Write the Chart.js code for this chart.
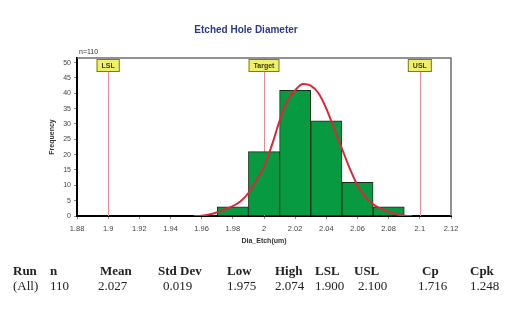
<!DOCTYPE html>
<html>
<head>
<meta charset="utf-8">
<script src="https://cdn.jsdelivr.net/npm/chart.js@4/dist/chart.umd.min.js"></script>
<style>
  body { margin: 0; background: #fff; }
  #wrap { position: relative; width: 507px; height: 310px; }
  #chart { position: absolute; left: 0; top: 0; }
  .cell { position: absolute; font-family: "Liberation Serif", "Times New Roman", serif; font-size: 13px; line-height: 13px; color: #222; white-space: nowrap; }
  .head { font-weight: bold; top: 264px; }
  .val { top: 279px; }
</style>
</head>
<body>
<div id="wrap">
  <canvas id="chart" width="507" height="310"></canvas>
</div>
<script>
// histogram bins (centres) and counts
const binCenters = [1.98, 2.00, 2.02, 2.04, 2.06, 2.08];
const binCounts = [3, 21, 41, 31, 11, 3];

// fitted normal curve
const curveX = [1.955, 1.96, 1.965, 1.97, 1.975, 1.98, 1.985, 1.99, 1.995, 2.0, 2.005, 2.01, 2.015, 2.02, 2.025, 2.03, 2.035, 2.04, 2.045, 2.05, 2.055, 2.06, 2.065, 2.07, 2.075, 2.08, 2.085, 2.09, 2.095];
const curveY = [0, 0.1, 0.5, 1.2, 2.2, 3.2, 4.8, 7.5, 11.5, 16, 23, 31, 37.5, 41, 43, 42.5, 40, 35, 28.5, 22, 15.5, 10, 6.3, 3.8, 2.4, 1.4, 0.6, 0.1, 0];

// spec limits
const specNames = ["LSL", "Target", "USL"];
const specValues = [1.9, 2.0, 2.1];

const xTickValues = [1.88, 1.90, 1.92, 1.94, 1.96, 1.98, 2.00, 2.02, 2.04, 2.06, 2.08, 2.10, 2.12];
const xTickLabels = ["1.88", "1.9", "1.92", "1.94", "1.96", "1.98", "2", "2.02", "2.04", "2.06", "2.08", "2.1", "2.12"];
const yTickValues = [0, 5, 10, 15, 20, 25, 30, 35, 40, 45, 50];

// summary table
const statHeaders = ["Run", "n", "Mean", "Std Dev", "Low", "High", "LSL", "USL", "Cp", "Cpk"];
const statValues = ["(All)", "110", "2.027", "0.019", "1.975", "2.074", "1.900", "2.100", "1.716", "1.248"];

const headX = [13, 50, 100, 158, 227, 275, 315, 354, 422, 470];
const valX = [13, 50, 98, 163, 227, 275, 315, 358, 418, 470];

const wrap = document.getElementById("wrap");
statHeaders.forEach((t, i) => {
    const d = document.createElement("div");
    d.className = "cell head";
    d.style.left = headX[i] + "px";
    d.textContent = t;
    wrap.appendChild(d);
});
statValues.forEach((t, i) => {
    const d = document.createElement("div");
    d.className = "cell val";
    d.style.left = valX[i] + "px";
    d.textContent = t;
    wrap.appendChild(d);
});

const extras = {
    id: "extras",
    beforeDatasetsDraw(chart) {
        const { ctx, chartArea: a, scales: { x } } = chart;
        ctx.save();
        ctx.strokeStyle = "#e58a96";
        ctx.lineWidth = 1;
        specValues.forEach(v => {
            const px = Math.round(x.getPixelForValue(v)) + 0.5;
            ctx.beginPath();
            ctx.moveTo(px, a.top);
            ctx.lineTo(px, a.bottom);
            ctx.stroke();
        });
        ctx.restore();
    },
    afterDraw(chart) {
        const { ctx, chartArea: a, scales: { x } } = chart;
        ctx.save();
        // frame top / right
        ctx.strokeStyle = "#6f6f6f";
        ctx.lineWidth = 1.5;
        ctx.beginPath();
        ctx.moveTo(a.left, a.top);
        ctx.lineTo(a.right, a.top);
        ctx.lineTo(a.right, a.bottom);
        ctx.stroke();

        // spec labels
        ctx.font = "bold 7px Arial";
        ctx.textAlign = "center";
        ctx.textBaseline = "middle";
        specNames.forEach((name, i) => {
            const px = x.getPixelForValue(specValues[i]);
            const w = ctx.measureText(name).width + 10;
            ctx.fillStyle = "#eef06a";
            ctx.strokeStyle = "#7a7a2a";
            ctx.lineWidth = 1;
            ctx.fillRect(px - w / 2, a.top + 1, w, 13);
            ctx.strokeRect(px - w / 2 + 0.5, a.top + 1.5, w - 1, 12);
            ctx.fillStyle = "#3a3a10";
            ctx.fillText(name, px, a.top + 8);
        });

        // n label
        ctx.fillStyle = "#333";
        ctx.textAlign = "left";
        ctx.font = "7px Arial";
        ctx.fillText("n=110", a.left + 2, a.top - 6);

        // title
        ctx.fillStyle = "#2b3a8c";
        ctx.font = "bold 10px Arial";
        ctx.textAlign = "center";
        ctx.fillText("Etched Hole Diameter", 246, 30);
        ctx.restore();
    }
};

new Chart(document.getElementById("chart"), {
    type: "bar",
    data: {
        datasets: [{
            type: "line",
            data: curveX.map((v, i) => ({ x: v, y: curveY[i] })),
            borderColor: "#d8283a",
            borderWidth: 2,
            pointRadius: 0,
            cubicInterpolationMode: "monotone",
            fill: false,
            order: 0
        }, {
            type: "bar",
            data: binCenters.map((v, i) => ({ x: v, y: binCounts[i] })),
            backgroundColor: "#079a41",
            borderColor: "#163016",
            borderWidth: 1,
            barPercentage: 1,
            categoryPercentage: 1,
            order: 1
        }]
    },
    options: {
        responsive: false,
        animation: false,
        events: [],
        layout: { padding: { left: 37, right: 56, top: 58, bottom: 64 } },
        plugins: { legend: { display: false }, tooltip: { enabled: false } },
        scales: {
            x: {
                type: "linear",
                min: 1.88,
                max: 2.12,
                offset: false,
                afterBuildTicks: s => { s.ticks = xTickValues.map(v => ({ value: v })); },
                afterFit: s => { s.height = 30; },
                ticks: {
                    autoSkip: false,
                    maxRotation: 0,
                    padding: 5,
                    color: "#444",
                    font: { family: "Arial", size: 7.5 },
                    callback: (v, i) => xTickLabels[i]
                },
                grid: { display: true, offset: false, drawOnChartArea: false, drawTicks: true, tickLength: 3, color: "#888" },
                border: { color: "#000", width: 2 },
                title: {
                    display: true,
                    text: "Dia_Etch(um)",
                    color: "#333",
                    font: { family: "Arial", size: 7, weight: "bold" },
                    padding: { top: 0, bottom: 1 }
                }
            },
            y: {
                min: 0,
                max: 51.5,
                afterBuildTicks: s => { s.ticks = yTickValues.map(v => ({ value: v })); },
                afterFit: s => { s.width = 40; },
                ticks: {
                    padding: 3,
                    color: "#444",
                    font: { family: "Arial", size: 7 }
                },
                grid: { display: true, drawOnChartArea: false, drawTicks: true, tickLength: 3, color: "#888" },
                border: { color: "#000", width: 2 },
                title: {
                    display: true,
                    text: "Frequency",
                    color: "#333",
                    font: { family: "Arial", size: 7, weight: "bold" },
                    padding: { top: 11, bottom: 0 }
                }
            }
        }
    },
    plugins: [extras]
});
</script>
</body>
</html>
